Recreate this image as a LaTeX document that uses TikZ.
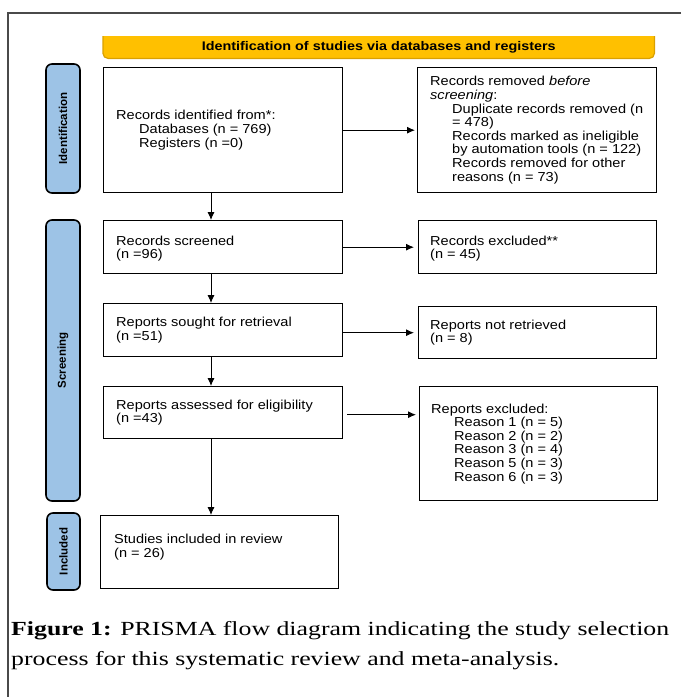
\documentclass[tikz,border=0pt]{standalone}
\usepackage{fontspec}
\setmainfont{Liberation Serif}
\newfontfamily\diagfont{Liberation Sans}[FakeStretch=1.12]
\newfontfamily\barfont{Liberation Sans}[FakeStretch=1.15]
\newfontfamily\sidefont{Liberation Sans}
\newfontfamily\capfont{Liberation Serif}[FakeStretch=1.29]
\usetikzlibrary{arrows.meta}
\definecolor{baryellow}{HTML}{FFC000}
\definecolor{barline}{HTML}{D9A000}
\definecolor{sideblue}{HTML}{9DC3E6}
\definecolor{framegray}{HTML}{4A4A4A}
\begin{document}
\begin{tikzpicture}[x=1pt,y=-1pt,
  boxnode/.style={draw=black, line width=1.4pt, rectangle, anchor=north west, inner sep=0pt},
  txt/.style={anchor=west, align=left, inner sep=0pt, font=\diagfont\fontsize{13}{13.6}\selectfont},
  sidelabel/.style={draw=black, line width=1.6pt, fill=sideblue, rounded corners=6pt, rotate=90, inner sep=0pt, font=\sidefont\bfseries\fontsize{11.5}{13}\selectfont},
  arr/.style={-{Latex[length=8pt,width=7pt]}, line width=0.9pt, black},
  capline/.style={anchor=base west, inner sep=0pt, font=\capfont\fontsize{20}{30}\selectfont}
]
\useasboundingbox (0,0) rectangle (681,697);
\fill[white] (0,0) rectangle (681,697);
% frame
\draw[framegray, line width=1.5pt] (681,13) -- (8,13) -- (8,697);

% top bar
\node[anchor=north west, minimum width=551pt, minimum height=22pt, inner sep=0pt] (bar) at (103,36) {};
\fill[baryellow] (bar.north west) [rounded corners=5pt] -- (bar.south west) -- (bar.south east) [sharp corners] -- (bar.north east) -- cycle;
\draw[barline, line width=1.2pt] (bar.north west) [rounded corners=5pt] -- (bar.south west) -- (bar.south east) [sharp corners] -- (bar.north east);
\node[inner sep=0pt, font=\barfont\bfseries\fontsize{12.5}{13}\selectfont] (bartext) at (bar.center) {Identification of studies via databases and registers};

% side labels
\node[sidelabel, minimum width=129pt, minimum height=34pt] (lid) at (63,128.5) {Identification};
\node[sidelabel, minimum width=281pt, minimum height=34pt] (lscr) at (63,360.5) {Screening};
\node[sidelabel, minimum width=77pt, minimum height=33pt] (linc) at (63.5,551.5) {Included};

% boxes
\node[boxnode, minimum width=239pt, minimum height=125pt] (id) at (103,67) {};
\node[boxnode, minimum width=239pt, minimum height=125pt] (rem) at (417,67) {};
\node[boxnode, minimum width=239pt, minimum height=53pt] (scr) at (103,220) {};
\node[boxnode, minimum width=238pt, minimum height=53pt] (exc) at (418,220) {};
\node[boxnode, minimum width=239pt, minimum height=53pt] (sou) at (103,303) {};
\node[boxnode, minimum width=238pt, minimum height=52pt] (nre) at (418,306) {};
\node[boxnode, minimum width=239pt, minimum height=52pt] (ass) at (103,386) {};
\node[boxnode, minimum width=238pt, minimum height=114pt] (rex) at (419,386) {};
\node[boxnode, minimum width=238pt, minimum height=73pt] (inc) at (100,515) {};

% texts
\node[txt] (idt) at ([xshift=13pt]id.west) {Records identified from*:\\\hspace*{23pt}Databases (n = 769)\\\hspace*{23pt}Registers (n =0)};
\node[txt] (remt) at ([xshift=13pt]rem.west) {Records removed \textit{before}\\\textit{screening}:\\\hspace*{22pt}Duplicate records removed (n\\\hspace*{22pt}= 478)\\\hspace*{22pt}Records marked as ineligible\\\hspace*{22pt}by automation tools (n = 122)\\\hspace*{22pt}Records removed for other\\\hspace*{22pt}reasons (n = 73)};
\node[txt] (scrt) at ([xshift=13pt,yshift=-1.5pt]scr.west) {Records screened\\(n =96)};
\node[txt] (exct) at ([xshift=12pt,yshift=-1.5pt]exc.west) {Records excluded**\\(n = 45)};
\node[txt] (sout) at ([xshift=13pt]sou.west) {Reports sought for retrieval\\(n =51)};
\node[txt] (nret) at ([xshift=12pt]nre.west) {Reports not retrieved\\(n = 8)};
\node[txt] (asst) at ([xshift=13pt]ass.west) {Reports assessed for eligibility\\(n =43)};
\node[txt] (rext) at ([xshift=12pt]rex.west) {Reports excluded:\\\hspace*{23pt}Reason 1 (n = 5)\\\hspace*{23pt}Reason 2 (n = 2)\\\hspace*{23pt}Reason 3 (n = 4)\\\hspace*{23pt}Reason 5 (n = 3)\\\hspace*{23pt}Reason 6 (n = 3)};
\node[txt] (inct) at ([xshift=14pt,yshift=5pt]inc.west) {Studies included in review\\(n = 26)};

% arrows
\coordinate (ax) at (211,0);
\draw[arr] (id.south -| ax) -- (scr.north -| ax);
\draw[arr] (scr.south -| ax) -- (sou.north -| ax);
\draw[arr] (sou.south -| ax) -- (ass.north -| ax);
\draw[arr] (ass.south -| ax) -- (inc.north -| ax);
\draw[arr, shorten >=2pt] (id.east) -- (rem.west);
\draw[arr, shorten >=4pt] (scr.east) -- (scr.east -| exc.west);
\draw[arr, shorten >=4pt] (nre.west -| sou.east) -- (nre.west);
\draw[arr, shorten >=3pt, shorten <=4pt] ([yshift=-2pt]ass.east) -- ([yshift=-2pt]ass.east -| rex.west);

% caption
\node[capline] (cap1) at (11,635) {\textbf{Figure 1:} PRISMA flow diagram indicating the study selection};
\node[capline] (cap2) at (11,665) {process for this systematic review and meta-analysis.};
\end{tikzpicture}
\end{document}
